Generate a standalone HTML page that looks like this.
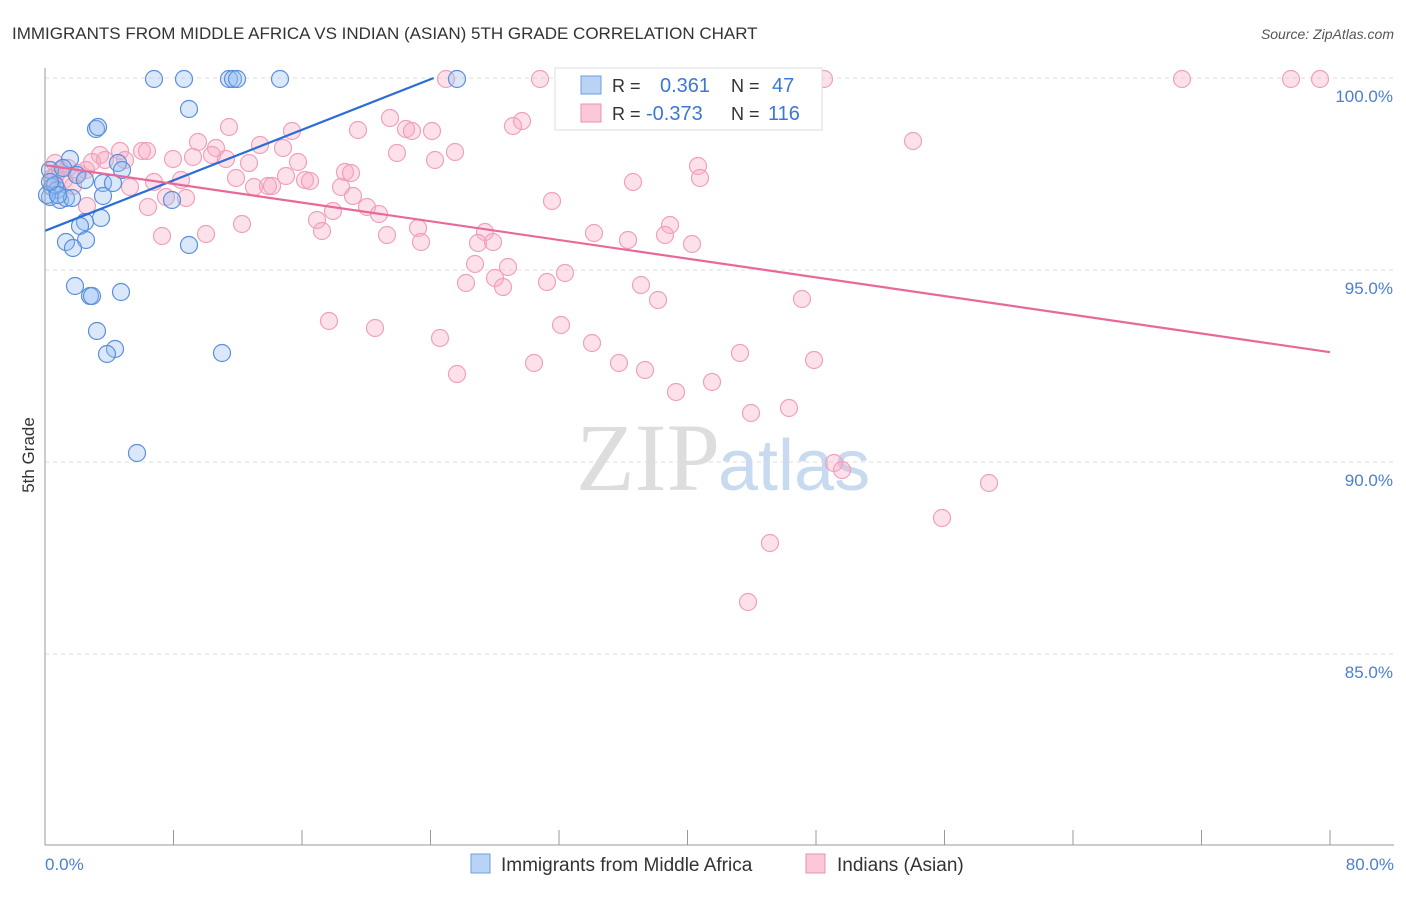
<!DOCTYPE html>
<html><head><meta charset="utf-8"><style>
body{margin:0;background:#fff;font-family:"Liberation Sans",sans-serif}
</style></head><body>
<svg width="1406" height="892" xmlns="http://www.w3.org/2000/svg" font-family="Liberation Sans, sans-serif">
<text x="12" y="39" font-size="17" fill="#333">IMMIGRANTS FROM MIDDLE AFRICA VS INDIAN (ASIAN) 5TH GRADE CORRELATION CHART</text>
<text x="1394" y="39" font-size="14" fill="#555" font-style="italic" text-anchor="end">Source: ZipAtlas.com</text>
<text x="34" y="455" font-size="17" fill="#333" transform="rotate(-90 34 455)" text-anchor="middle">5th Grade</text>
<g id="grid"></g>
<text x="720" y="490" font-size="96" fill="#ddd" font-family="Liberation Serif, serif" text-anchor="end">ZIP</text>
<text x="718" y="490" font-size="72" fill="#c8daf0">atlas</text>
<g id="pts"></g>
<g id="lines"></g>
<line x1="45" y1="68" x2="45" y2="845" stroke="#999"/>
<line x1="45" y1="845" x2="1394" y2="845" stroke="#999"/>
<g id="ticks"></g>
<text x="45" y="870" font-size="17" fill="#4a7fd4">0.0%</text>
<text x="1394" y="870" font-size="17" fill="#4a7fd4" text-anchor="end">80.0%</text>
<g>
<rect x="555" y="68" width="267" height="62" fill="#fff" stroke="#ddd"/>
<rect x="581" y="76" width="20" height="18" fill="#b9d3f5" stroke="#6d9de0"/>
<rect x="581" y="104" width="20" height="18" fill="#fbc8d7" stroke="#ee90ae"/>
<text x="612" y="92" font-size="18" fill="#333">R =</text><text x="660" y="92" font-size="20" fill="#3a78d8">0.361</text>
<text x="731" y="92" font-size="18" fill="#333">N =</text><text x="772" y="92" font-size="20" fill="#3a78d8">47</text>
<text x="612" y="120" font-size="18" fill="#333">R =</text><text x="646" y="120" font-size="20" fill="#3a78d8">-0.373</text>
<text x="731" y="120" font-size="18" fill="#333">N =</text><text x="768" y="120" font-size="20" fill="#3a78d8">116</text>
</g>
<g>
<rect x="471" y="854" width="19" height="19" fill="#b9d3f5" stroke="#6d9de0"/>
<text x="501" y="871" font-size="19" fill="#333">Immigrants from Middle Africa</text>
<rect x="806" y="854" width="19" height="19" fill="#fbc8d7" stroke="#ee90ae"/>
<text x="837" y="871" font-size="19" fill="#333">Indians (Asian)</text>
</g>
</svg>
<script>
const yTicks=[100,95,90,85];
const xTicks=[0,8,16,24,32,40,48,56,64,72,80];
const bluePx=[[154,79],[184,79],[229,79],[233,79],[237,79],[280,79],[457,79],[189,109],[96,129],[98,127],[70,159],[118,163],[50,170],[122,170],[77,175],[85,180],[52,187],[57,190],[103,183],[113,183],[50,197],[60,200],[66,198],[72,198],[103,196],[172,200],[101,218],[85,222],[80,226],[66,242],[86,240],[73,248],[189,245],[75,286],[90,296],[92,296],[121,292],[97,331],[115,349],[107,354],[222,353],[137,453],[47,195],[55,185],[63,168],[58,195],[50,182]];
const pinkPx=[[446,79],[540,79],[824,79],[1182,79],[1291,79],[1320,79],[913,141],[390,118],[522,121],[513,126],[358,130],[406,129],[412,131],[432,131],[292,131],[229,127],[198,142],[216,148],[260,145],[283,148],[120,151],[142,151],[147,151],[100,155],[92,162],[105,160],[125,160],[173,159],[193,157],[212,155],[226,159],[249,163],[298,162],[397,153],[455,152],[435,160],[55,163],[68,168],[52,178],[78,173],[86,170],[286,176],[236,178],[73,186],[130,187],[154,182],[181,180],[254,187],[268,186],[272,186],[305,180],[310,181],[345,172],[351,173],[341,187],[698,166],[700,178],[633,182],[353,196],[367,207],[379,214],[333,211],[186,198],[166,197],[148,207],[87,206],[317,220],[322,231],[242,224],[162,236],[206,234],[387,235],[418,228],[421,242],[485,232],[478,243],[493,242],[552,201],[594,233],[628,240],[670,225],[665,235],[692,244],[475,264],[508,267],[495,278],[503,287],[466,283],[547,282],[565,273],[641,285],[658,300],[802,299],[329,321],[375,328],[440,338],[561,325],[592,343],[457,374],[534,363],[619,363],[645,370],[676,392],[712,382],[740,353],[814,360],[751,413],[789,408],[834,463],[842,470],[989,483],[942,518],[770,543],[748,602],[60,170],[64,180],[56,175]];
// convert reading (pixels) to data values
const toX=p=>(p-45)/1285*80, toY=p=>100-(p-78)/192*5;
const blueX=bluePx.map(p=>toX(p[0])), blueY=bluePx.map(p=>toY(p[1]));
const pinkX=pinkPx.map(p=>toX(p[0])), pinkY=pinkPx.map(p=>toY(p[1]));
const blueFit=[[0,96.02],[24.2,100]];
const pinkFit=[[0,97.73],[80,92.86]];
const sx=v=>45+v/80*1285, sy=v=>78+(100-v)/5*192;
const NS="http://www.w3.org/2000/svg";
function mk(t,a,parent){const e=document.createElementNS(NS,t);for(const k in a)e.setAttribute(k,a[k]);document.getElementById(parent).appendChild(e);return e;}
yTicks.forEach(v=>{
 const l=mk('line',{x1:45,x2:1394,y1:sy(v),y2:sy(v),stroke:'#ddd','stroke-dasharray':'4,4'},'grid');
 
 
 const t=mk('text',{x:1393,y:sy(v)+24,'font-size':17,fill:'#4a7fd4','text-anchor':'end'},'grid');
 t.textContent=v.toFixed(1)+'%';
 
 
});
xTicks.forEach(v=>{
 const l=mk('line',{x1:sx(v),x2:sx(v),y1:830,y2:845,stroke:'#999'},'ticks');
 
 
});
pinkX.forEach((x,i)=>{
 const c=mk('circle',{cx:sx(x),cy:sy(pinkY[i]),r:8.5,fill:'rgba(248,170,195,0.35)',stroke:'#f0a0bb','stroke-width':1.2},'pts');
 
 
});
blueX.forEach((x,i)=>{
 const c=mk('circle',{cx:sx(x),cy:sy(blueY[i]),r:8.5,fill:'rgba(150,190,240,0.35)',stroke:'#5a8fdc','stroke-width':1.2},'pts');
 
 
});
const bl=mk('line',{x1:sx(blueFit[0][0]),y1:sy(blueFit[0][1]),x2:sx(blueFit[1][0]),y2:sy(blueFit[1][1]),stroke:'#2a6dd6','stroke-width':2.2},'lines');


const pl=mk('line',{x1:sx(pinkFit[0][0]),y1:sy(pinkFit[0][1]),x2:sx(pinkFit[1][0]),y2:sy(pinkFit[1][1]),stroke:'#e8689a','stroke-width':2.2},'lines');


</script>
</body></html>
